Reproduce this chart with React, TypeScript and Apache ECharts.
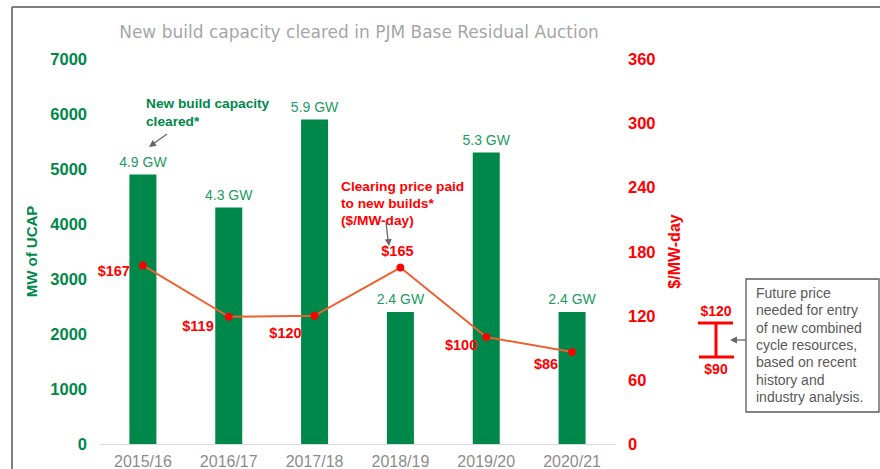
import React, { useEffect, useRef } from "react";
import * as echarts from "echarts";

const categories = ["2015/16", "2016/17", "2017/18", "2018/19", "2019/20", "2020/21"];
const capacityMW = [4900, 4300, 5900, 2400, 5300, 2400];
const capacityLabels = ["4.9 GW", "4.3 GW", "5.9 GW", "2.4 GW", "5.3 GW", "2.4 GW"];
const clearingPrice = [167, 119, 120, 165, 100, 86];
const priceLabelOffsets: [number, number][] = [[-4, 6], [-6, 9], [-4, 17], [-3, 0], [0, 8], [-5, 12]];
const priceLabelPositions = ["left", "left", "left", "top", "left", "left"];
const boxLines = [
  "Future price",
  "needed for entry",
  "of new combined",
  "cycle resources,",
  "based on recent",
  "history and",
  "industry analysis.",
];

const FONT = "'Liberation Sans', Arial, sans-serif";
const WIDE = "'DejaVu Sans', 'Liberation Sans', sans-serif";
const GREEN = "#00884A";
const RED = "#FF0000";
const GRAY_ARROW = "#666666";

export default function App() {
  const ref = useRef<HTMLDivElement>(null);
  useEffect(() => {
    if (!ref.current) return;
    const chart = echarts.init(ref.current, null, { renderer: "svg" });
    const arrowHead = (x: number, y: number, angleDeg: number) => {
      const a = (angleDeg * Math.PI) / 180;
      const len = 7, w = 3.5;
      const bx = x - len * Math.cos(a), by = y - len * Math.sin(a);
      const px = -Math.sin(a) * w, py = Math.cos(a) * w;
      return {
        type: "polygon",
        shape: { points: [[x, y], [bx + px, by + py], [bx - px, by - py]] },
        style: { fill: GRAY_ARROW },
        silent: true,
      };
    };
    chart.setOption({
      animation: false,
      textStyle: { fontFamily: FONT },
      title: {
        text: "New build capacity cleared in PJM Base Residual Auction",
        left: 354,
        top: 18,
        textAlign: "center",
        textStyle: { color: "#A6A6A6", fontSize: 17, fontWeight: "normal", fontFamily: WIDE },
      },
      grid: { left: 100, right: 265, top: 59, bottom: 22, containLabel: false },
      xAxis: {
        type: "category",
        data: categories,
        axisLine: { lineStyle: { color: "#D9D9D9", width: 1 } },
        axisTick: { show: false },
        axisLabel: { color: "#8C8C8C", fontSize: 16, margin: 9, fontFamily: FONT },
      },
      yAxis: [
        {
          type: "value",
          min: 0,
          max: 7000,
          interval: 1000,
          name: "MW of UCAP",
          nameLocation: "middle",
          nameRotate: 90,
          nameGap: 57,
          nameTextStyle: { color: GREEN, fontSize: 15, fontWeight: "bold", fontFamily: FONT },
          axisLine: { show: false },
          axisTick: { show: false },
          splitLine: { show: false },
          axisLabel: {
            color: GREEN,
            fontSize: 16.5,
            fontWeight: "bold",
            margin: 13,
            fontFamily: FONT,
            formatter: (v: number) => String(v),
          },
        },
        {
          type: "value",
          min: 0,
          max: 360,
          interval: 60,
          name: "$/MW-day",
          nameLocation: "middle",
          nameRotate: 90,
          nameGap: 43,
          nameTextStyle: { color: RED, fontSize: 16, fontWeight: "bold", fontFamily: FONT },
          axisLine: { show: false },
          axisTick: { show: false },
          splitLine: { show: false },
          axisLabel: { color: RED, fontSize: 16.5, fontWeight: "bold", margin: 13, fontFamily: FONT },
        },
      ],
      series: [
        {
          type: "bar",
          yAxisIndex: 0,
          data: capacityMW,
          barWidth: 27,
          itemStyle: { color: GREEN },
          label: {
            show: true,
            position: "top",
            distance: 6,
            color: "#1E9A62",
            fontSize: 14,
            fontFamily: FONT,
            formatter: (p: any) => capacityLabels[p.dataIndex],
          },
        },
        {
          type: "line",
          yAxisIndex: 1,
          data: clearingPrice.map((v, i) => ({
            value: v,
            label: { position: priceLabelPositions[i], offset: priceLabelOffsets[i] },
          })),
          symbol: "circle",
          symbolSize: 8,
          lineStyle: { color: "#F0602E", width: 2 },
          itemStyle: { color: RED },
          label: {
            show: true,
            color: RED,
            fontSize: 14.5,
            fontWeight: "bold",
            fontFamily: FONT,
            formatter: (p: any) => "$" + p.value,
          },
          z: 5,
        },
      ],
      graphic: [
        // frame
        { type: "line", shape: { x1: 12, y1: 7, x2: 880, y2: 7 }, style: { stroke: "#7F7F7F", lineWidth: 2 }, silent: true },
        { type: "line", shape: { x1: 12, y1: 7, x2: 12, y2: 469 }, style: { stroke: "#7F7F7F", lineWidth: 2 }, silent: true },
        // green annotation
        {
          type: "text",
          x: 146,
          y: 94,
          style: {
            text: "New build capacity\ncleared*",
            fill: GREEN,
            font: "bold 13.7px " + FONT,
            lineHeight: 18,
          },
        },
        { type: "line", shape: { x1: 167, y1: 134, x2: 153, y2: 144 }, style: { stroke: GRAY_ARROW, lineWidth: 1.3 } },
        arrowHead(149, 147, 145),
        // red annotation
        {
          type: "text",
          x: 341,
          y: 178,
          style: {
            text: "Clearing price paid\nto new builds*\n($/MW-day)",
            fill: RED,
            font: "bold 13.7px " + FONT,
            lineHeight: 17,
          },
        },
        { type: "line", shape: { x1: 386, y1: 222, x2: 388, y2: 240 }, style: { stroke: GRAY_ARROW, lineWidth: 1.3 } },
        arrowHead(389, 246, 84),
        // I-beam
        { type: "line", shape: { x1: 716, y1: 323, x2: 716, y2: 357 }, style: { stroke: RED, lineWidth: 3 } },
        { type: "line", shape: { x1: 698, y1: 323, x2: 733, y2: 323 }, style: { stroke: RED, lineWidth: 3 } },
        { type: "line", shape: { x1: 699, y1: 357, x2: 734, y2: 357 }, style: { stroke: RED, lineWidth: 3 } },
        {
          type: "text",
          x: 716,
          y: 311,
          style: { text: "$120", fill: RED, font: "bold 14px " + FONT, align: "center", verticalAlign: "middle" },
        },
        {
          type: "text",
          x: 716,
          y: 369,
          style: { text: "$90", fill: RED, font: "bold 14px " + FONT, align: "center", verticalAlign: "middle" },
        },
        // box arrow
        { type: "line", shape: { x1: 750, y1: 340, x2: 736, y2: 340 }, style: { stroke: GRAY_ARROW, lineWidth: 1.3 } },
        arrowHead(730, 340, 180),
        // box
        {
          type: "rect",
          shape: { x: 746, y: 279, width: 133, height: 133 },
          style: { fill: "#FFFFFF", stroke: "#595959", lineWidth: 1.3 },
        },
        {
          type: "text",
          x: 756,
          y: 284,
          style: {
            text: boxLines.join("\n"),
            fill: "#595959",
            font: "14px " + FONT,
            lineHeight: 17.4,
          },
        },
      ],
    });
    return () => chart.dispose();
  }, []);
  return <div ref={ref} style={{ width: 880, height: 469, position: "absolute", left: 0, top: 0 }} />;
}
